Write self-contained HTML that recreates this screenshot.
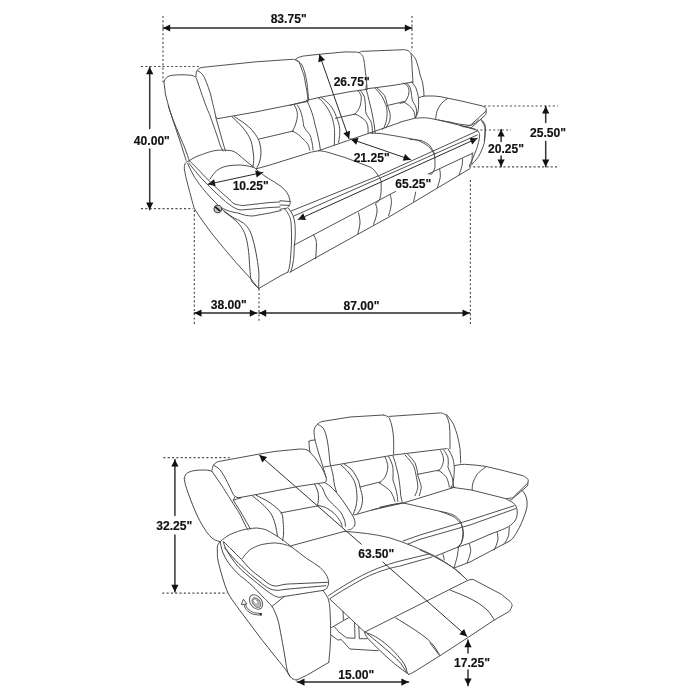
<!DOCTYPE html>
<html><head><meta charset="utf-8"><style>
html,body{margin:0;padding:0;background:#fff;width:700px;height:700px;overflow:hidden}
svg{display:block;will-change:transform}
text{font-family:"Liberation Sans",sans-serif;font-weight:bold;fill:#111;stroke:#111;stroke-width:0.15px}
</style></head><body>
<svg width="700" height="700" viewBox="0 0 700 700" stroke-linecap="round" stroke-linejoin="round">
<rect width="700" height="700" fill="#fff"/>
<line x1="163" y1="16" x2="163" y2="82" stroke="#505050" stroke-width="1.15" stroke-dasharray="2.1,2.2" stroke-linecap="butt"/>
<line x1="412" y1="16" x2="412" y2="51" stroke="#505050" stroke-width="1.15" stroke-dasharray="2.1,2.2" stroke-linecap="butt"/>
<line x1="163" y1="28" x2="412" y2="28" stroke="#2a2a2a" stroke-width="1.5"/>
<polygon points="412.0,28.0 404.8,31.6 404.8,24.4" fill="#111"/>
<polygon points="163.0,28.0 170.2,24.4 170.2,31.6" fill="#111"/>
<line x1="141" y1="66.5" x2="199" y2="66.5" stroke="#505050" stroke-width="1.15" stroke-dasharray="2.1,2.2" stroke-linecap="butt"/>
<line x1="141" y1="208.6" x2="193" y2="208.6" stroke="#505050" stroke-width="1.15" stroke-dasharray="2.1,2.2" stroke-linecap="butt"/>
<line x1="149.7" y1="67" x2="149.7" y2="128.6" stroke="#333" stroke-width="1.5"/>
<line x1="149.7" y1="149" x2="149.7" y2="209.7" stroke="#333" stroke-width="1.5"/>
<polygon points="149.7,67.0 153.3,74.2 146.1,74.2" fill="#111"/>
<polygon points="149.7,209.7 146.1,202.5 153.3,202.5" fill="#111"/>
<line x1="484" y1="106" x2="558" y2="106" stroke="#505050" stroke-width="1.15" stroke-dasharray="2.1,2.2" stroke-linecap="butt"/>
<line x1="476" y1="130" x2="511" y2="130" stroke="#505050" stroke-width="1.15" stroke-dasharray="2.1,2.2" stroke-linecap="butt"/>
<line x1="469" y1="166.8" x2="559" y2="166.8" stroke="#505050" stroke-width="1.15" stroke-dasharray="2.1,2.2" stroke-linecap="butt"/>
<line x1="545.7" y1="106.3" x2="545.7" y2="122.6" stroke="#333" stroke-width="1.5"/>
<line x1="545.7" y1="141.4" x2="545.7" y2="166.8" stroke="#333" stroke-width="1.5"/>
<polygon points="545.7,106.3 549.3,113.5 542.1,113.5" fill="#111"/>
<polygon points="545.7,166.8 542.1,159.6 549.3,159.6" fill="#111"/>
<line x1="501.1" y1="129.4" x2="501.1" y2="141.4" stroke="#333" stroke-width="1.5"/>
<line x1="501.1" y1="156" x2="501.1" y2="166.8" stroke="#333" stroke-width="1.5"/>
<polygon points="501.1,129.4 504.7,136.6 497.5,136.6" fill="#111"/>
<polygon points="501.1,166.8 497.5,159.6 504.7,159.6" fill="#111"/>
<line x1="194.3" y1="210" x2="194.3" y2="325.7" stroke="#505050" stroke-width="1.15" stroke-dasharray="2.1,2.2" stroke-linecap="butt"/>
<line x1="259" y1="288.6" x2="259" y2="323" stroke="#505050" stroke-width="1.15" stroke-dasharray="2.1,2.2" stroke-linecap="butt"/>
<line x1="470.4" y1="180" x2="470.4" y2="324.6" stroke="#505050" stroke-width="1.15" stroke-dasharray="2.1,2.2" stroke-linecap="butt"/>
<line x1="194.3" y1="313.1" x2="257" y2="313.1" stroke="#2a2a2a" stroke-width="1.5"/>
<polygon points="257.0,313.1 249.8,316.7 249.8,309.5" fill="#111"/>
<polygon points="194.3,313.1 201.5,309.5 201.5,316.7" fill="#111"/>
<line x1="259" y1="313.1" x2="469.7" y2="313.1" stroke="#2a2a2a" stroke-width="1.5"/>
<polygon points="469.7,313.1 462.5,316.7 462.5,309.5" fill="#111"/>
<polygon points="259.0,313.1 266.2,309.5 266.2,316.7" fill="#111"/>
<line x1="163.4" y1="457.6" x2="229.7" y2="457.6" stroke="#505050" stroke-width="1.15" stroke-dasharray="2.1,2.2" stroke-linecap="butt"/>
<line x1="162.3" y1="593.1" x2="227.4" y2="593.1" stroke="#505050" stroke-width="1.15" stroke-dasharray="2.1,2.2" stroke-linecap="butt"/>
<line x1="174.9" y1="459.4" x2="174.9" y2="515.4" stroke="#333" stroke-width="1.5"/>
<line x1="174.9" y1="534.9" x2="174.9" y2="592" stroke="#333" stroke-width="1.5"/>
<polygon points="174.9,459.4 178.5,466.6 171.3,466.6" fill="#111"/>
<polygon points="174.9,592.0 171.3,584.8 178.5,584.8" fill="#111"/>
<line x1="468" y1="640" x2="468" y2="652.9" stroke="#333" stroke-width="1.5"/>
<line x1="468" y1="670" x2="468" y2="685.7" stroke="#333" stroke-width="1.5"/>
<polygon points="468.0,640.0 471.6,647.2 464.4,647.2" fill="#111"/>
<polygon points="468.0,685.7 464.4,678.5 471.6,678.5" fill="#111"/>
<line x1="319.3" y1="54.3" x2="349.1" y2="138.8" stroke="#2a2a2a" stroke-width="1.0"/>
<polygon points="349.1,138.8 343.3,133.2 350.1,130.8" fill="#111"/>
<polygon points="319.3,54.3 325.1,59.9 318.3,62.3" fill="#111"/>
<line x1="350.6" y1="139" x2="410.7" y2="159.7" stroke="#2a2a2a" stroke-width="1.0"/>
<polygon points="410.7,159.7 402.7,160.8 405.1,154.0" fill="#111"/>
<polygon points="350.6,139.0 358.6,137.9 356.2,144.7" fill="#111"/>
<line x1="207.8" y1="184.3" x2="263" y2="172.4" stroke="#2a2a2a" stroke-width="1.0"/>
<polygon points="263.0,172.4 256.7,177.4 255.2,170.4" fill="#111"/>
<polygon points="207.8,184.3 214.1,179.3 215.6,186.3" fill="#111"/>
<polygon points="298.0,219.6 303.1,213.3 306.0,219.9" fill="#111"/>
<polygon points="477.4,138.3 472.3,144.6 469.4,138.0" fill="#111"/>
<line x1="259.3" y1="455" x2="361.4" y2="544.3" stroke="#333" stroke-width="1.0"/>
<line x1="382.9" y1="562.1" x2="467.1" y2="636.4" stroke="#333" stroke-width="1.0"/>
<polygon points="467.1,636.4 459.3,634.3 464.1,628.9" fill="#111"/>
<polygon points="259.3,455.0 267.1,457.0 262.3,462.4" fill="#111"/>
<line x1="297.3" y1="682.1" x2="408.6" y2="682.1" stroke="#2a2a2a" stroke-width="1.5"/>
<polygon points="408.6,682.1 401.4,685.7 401.4,678.5" fill="#111"/>
<polygon points="297.3,682.1 304.5,678.5 304.5,685.7" fill="#111"/>
<path d="M163.9,81.9 C165,78 168,75.8 172,75.3 C178,74.6 186,74.6 191.9,75.4 C194,75.8 195.8,77 196.4,78.3 C198,83 202,95 203.9,100 C206,106 207,109 209.3,113.6 C213,124 217,135 220,145 L223,151" stroke="#484848" stroke-width="0.95" fill="none" />
<path d="M163.90,81.90 C164.08,83.25 164.70,87.82 165.00,90.00 C165.30,92.18 164.87,91.50 165.70,95.00 C166.53,98.50 168.40,105.65 170.00,111.00 C171.60,116.35 173.52,121.73 175.30,127.10 C177.08,132.47 178.90,137.65 180.70,143.20 C182.50,148.75 185.20,157.53 186.10,160.40" stroke="#484848" stroke-width="1.0" fill="none" />
<path d="M168.30,106.00 C169.05,108.17 170.92,114.05 172.80,119.00 C174.68,123.95 177.57,130.77 179.60,135.70 C181.63,140.63 183.38,144.45 185.00,148.60 C186.62,152.75 188.58,158.60 189.30,160.60" stroke="#484848" stroke-width="1.0" fill="none" />
<path d="M195.9,76.6 C195.8,73 196.5,70.5 198.5,69 C199.5,68 200.5,67.6 202.1,67.4 L255,61.9 L292.1,59.3 C294,59.3 295,59.5 295.7,60" stroke="#484848" stroke-width="0.95" fill="none" />
<path d="M197.6,70.9 C199.5,71.5 202,73 203.9,76.6 C205,79 206,81 206.7,82.9 C209,89 211,95 211.9,100 C213,105 214.5,110 215.2,114 C215.7,117 216.5,118.6 218,118.6 L255,112.1 L307.9,101.4" stroke="#484848" stroke-width="0.95" fill="none" />
<path d="M215.7,117 L223.6,145 L225.5,151" stroke="#484848" stroke-width="0.95" fill="none" />
<path d="M295.7,60 C298,61 299,62 299.3,62.9 C302,69 303,74 303.6,73.6 C305,80 306,88 306.4,87.9 C307.5,95 307.9,99 307.9,101.4" stroke="#484848" stroke-width="0.95" fill="none" />
<path d="M234.30,116.60 C235.25,117.22 237.62,118.62 240.00,120.30 C242.38,121.98 246.03,124.35 248.60,126.70 C251.17,129.05 253.55,131.68 255.40,134.40 C257.25,137.12 258.77,139.90 259.70,143.00 C260.63,146.10 261.03,149.83 261.00,153.00 C260.97,156.17 260.25,159.40 259.50,162.00 C258.75,164.60 257.00,167.50 256.50,168.60" stroke="#484848" stroke-width="1.0" fill="none" />
<path d="M232.10,116.80 C233.42,118.10 237.68,122.10 240.00,124.60 C242.32,127.10 244.15,129.02 246.00,131.80 C247.85,134.58 249.85,137.43 251.10,141.30 C252.35,145.17 253.10,151.55 253.50,155.00 C253.90,158.45 253.60,159.92 253.50,162.00 C253.40,164.08 253.00,166.58 252.90,167.50" stroke="#484848" stroke-width="1.0" fill="none" />
<path d="M258.9,139.1 L293.1,131 L292.6,131.1" stroke="#484848" stroke-width="0.95" fill="none" />
<path d="M293.9,104.6 C296.5,108 297.6,112 297.4,115.7 C297,121 295,127 292.6,131.1" stroke="#484848" stroke-width="0.95" fill="none" />
<path d="M292.6,131.1 C296,133 298,134 300.3,136.3 C303,139 305.5,141 307.1,143.1 C308.5,145 309.3,147.5 309.7,150" stroke="#484848" stroke-width="0.95" fill="none" />
<path d="M297.3,105 C299.5,108 301,112 302,115.7 C303,120 303.2,123 303.7,126 C305,129.5 307.5,131.5 309.7,134.6 C311.5,138 312.5,144 313.1,150" stroke="#484848" stroke-width="0.95" fill="none" />
<path d="M306.7,100.3 C308,103 309.5,106 310.6,108.9 C312.5,114 314,119 314.9,124.3 C316.5,130 317.5,134 318.3,138 C319.2,142 320,146 320.4,150" stroke="#484848" stroke-width="0.95" fill="none" />
<path d="M295.7,59.3 C298,57.5 301,56 306.4,55.7 L319.3,54.3 L345,51.9 L356.4,52.1 C358.5,52.3 360.5,53 361.4,54.3 C362.7,56 363.3,57 363.6,58.6 C364.3,62 364.8,65 365,68.6 C365.6,74 366.1,77 366.4,80 C366.8,84 367,87 367.1,89.3" stroke="#484848" stroke-width="0.95" fill="none" />
<path d="M297,60.5 C299.5,62 301.2,63.5 302,65 C303.5,68.5 304.8,72 305.7,76.4 C306.8,81 307.5,86 307.9,92 C308.3,95 308.5,97.5 308.6,100" stroke="#484848" stroke-width="0.95" fill="none" />
<path d="M306.3,101.1 L290,105.4" stroke="#484848" stroke-width="0.95" fill="none" />
<path d="M306.7,100.3 L320,97.3 L350,91.7 L367.1,89.3" stroke="#484848" stroke-width="0.95" fill="none" />
<path d="M318.3,97.7 C321.5,100 324.5,104 326.8,107.1 C329.5,111 331.5,115.5 332.8,120 C334,124.5 334.6,128.5 334.6,132.8 C334.6,137 334.5,141 334.3,145" stroke="#484848" stroke-width="0.95" fill="none" />
<path d="M320.8,97.3 C324.5,99.5 327.5,102.5 330.3,105.4 C333,109 335,112.5 336.3,116.6 C338,121 339.3,125 339.7,128.6 C340,133 339.6,137 338.6,142.5" stroke="#484848" stroke-width="0.95" fill="none" />
<path d="M335.4,118.3 L354.9,114.1" stroke="#484848" stroke-width="0.95" fill="none" />
<path d="M359.3,52.5 C360,51.8 360.7,51.5 361.4,51.4 L403.6,49.7 C406,49.8 408,50.3 409.3,51.4 C410.5,52.8 411.2,54.2 411.4,55.7 C411.8,60 412,64 412.1,68.6 C412.4,73 412.7,77 412.9,82.1" stroke="#484848" stroke-width="0.95" fill="none" />
<path d="M366,88.9 L393,85.4 L412.9,82.1" stroke="#484848" stroke-width="0.95" fill="none" />
<path d="M366.4,85 L366,88.9 C367.2,92.5 368.2,96.5 369,100.4 C370.3,105 371.5,110 372.4,115 C373.6,120.5 374.5,126 375,131.3 L375.3,133" stroke="#484848" stroke-width="0.95" fill="none" />
<path d="M357.9,90.6 C360,93 361.4,95.5 361.3,97.9 C361.2,101 360.8,104 360,106.4 C358.7,109.5 357,112 354.9,114.1" stroke="#484848" stroke-width="0.95" fill="none" />
<path d="M360,90.1 C362,92.5 364,95.5 364.7,97.9 C365.5,102 365.4,107 365.6,111.6 C366.3,115 368.8,118 370.7,121 C372,124 372.4,128 372.4,131.3 L372.5,133.5" stroke="#484848" stroke-width="0.95" fill="none" />
<path d="M354.9,114.1 C358.5,115.5 361.5,117.3 363.9,119.3 C365.8,121 367,123 367.7,125.3 C368.2,128 368.2,130.5 368.1,133" stroke="#484848" stroke-width="0.95" fill="none" />
<path d="M375.4,88.4 C377.5,90.5 379.8,93.5 381.8,96.1 C383.3,98.8 384.8,101.8 385.7,104.7 C386.5,106.7 387,108.7 387,110.7 C387.2,114.5 386.9,118.5 386.1,121.8 C385.5,124 384.8,126 384,127.8 L382.5,129.5" stroke="#484848" stroke-width="0.95" fill="none" />
<path d="M377.1,88 C379.7,90 382.2,92.7 384.4,95.3 C385.7,98 386.5,101 387,103.9 C388,107.5 389.3,110.5 390,113.3 C390.5,116 390.2,118.5 389.6,121 C389,123 388,124.8 387,126.1 L385.5,128" stroke="#484848" stroke-width="0.95" fill="none" />
<path d="M387,105.6 L405,101.3" stroke="#484848" stroke-width="0.95" fill="none" />
<path d="M318.6,150.7 L400,122.5" stroke="#484848" stroke-width="0.95" fill="none" />
<path d="M411.4,53.6 C413.5,56 414.8,57.5 415.7,59.3 C417.5,64 419,69 420.1,75 C421.6,79 422.6,82 423.1,86.1 C423.7,90 424,93 424,96" stroke="#484848" stroke-width="0.95" fill="none" />
<path d="M403.4,83.1 C405,84 406.6,85 407.7,86.1 C408.7,88 409.1,90 409,92.1 C408.8,94.5 408.2,96.5 407.3,98.1 C406.5,99.8 405.5,101.2 404.3,102.4" stroke="#484848" stroke-width="0.95" fill="none" />
<path d="M400,103.3 L404.3,102.4 C406.2,103.5 408,104.5 409.4,105.8 C411.2,107.5 412.8,109.2 413.7,111 C414.7,113 415,115.5 415,117.8" stroke="#484848" stroke-width="0.95" fill="none" />
<path d="M406.4,82.7 C408,84.2 409.4,86 410.3,87.9 C411.1,90.5 411.4,93 411.6,95.6 C411.8,97.5 412,99 412.4,100.7 C413.3,102.5 414.6,104 415.4,105.8 C416.2,107.6 416.7,109.7 416.7,111.8 C416.7,114 416.2,116 415.4,117.8" stroke="#484848" stroke-width="0.95" fill="none" />
<path d="M411.6,81.9 C413.3,84 414.8,86 415.9,87.9 C417,91 417.9,94 418.4,97.3 C418.7,101 418.7,105 418.4,109.3 C418.1,112 417.2,114.8 415.9,117" stroke="#484848" stroke-width="0.95" fill="none" />
<path d="M418.9,97.7 C420.5,97 422.5,96.3 424.9,96 L434.3,96 C439,96.3 443,97 447.1,98.1 L460,100.7 L482.9,106.1 C484.6,106.8 485.6,107.8 486.1,108.9 C486.4,109.8 486.4,110.5 486.1,111 L471.4,124.3 C470.6,125 469.9,125.4 469.3,125.4 L460,124.3 L450,122.1" stroke="#484848" stroke-width="0.95" fill="none" />
<path d="M486.1,111 C486.3,112.5 486.2,113.8 485.6,114.8 L471.4,127.6 C471,127.9 470.5,128 470,127.9 L460,125.6" stroke="#484848" stroke-width="0.95" fill="none" />
<path d="M447.6,98.6 C444.5,100.5 442,102.5 440.3,105 C438.4,107.8 437,110.5 436.4,113.6 C436,115.8 435.7,117.7 435.6,119.6" stroke="#484848" stroke-width="0.95" fill="none" />
<path d="M400,122.1 L414.6,118.3 C418,117.9 421.5,117.8 425.7,117.8 C429,118 432.5,118.8 436,119.6 L450,122.1" stroke="#484848" stroke-width="0.95" fill="none" />
<path d="M470,127.9 C472,128.6 474,129.4 475.7,130" stroke="#484848" stroke-width="0.95" fill="none" />
<path d="M481.4,119.6 C483,121 484.4,123 485,125 C485.4,127 485.5,128.5 485.4,130 C485.2,133 484.8,136.5 484.3,140" stroke="#484848" stroke-width="0.95" fill="none" />
<path d="M189.4,160.7 C193,158 197,156.2 201.4,154.7 C206,153 211,151.2 216,150.4 C221,149.9 226,150 231.4,150.7 C235,151.5 238,154 241.4,157.1 C245,160.5 249,163.5 252.9,166.4 C254.8,168 256.6,169.8 258.6,171.4 C261.8,174 265.2,176.5 268.6,178.6 C272.4,180.9 276.4,183 280,185.7 C283,188 285.5,190.2 287.1,192.9 C288.8,195.7 289.8,198.6 290,201.4 C290.2,202.2 290.3,203 290.2,203.5 C289.5,206 288,208 286,208.4 L280,209.3" stroke="#484848" stroke-width="0.95" fill="none" />
<path d="M210,179.1 C212,176 214.5,172.5 216.8,170.6 C220,168 224,166.5 228,165.9 C232,165.3 236,165 240,165 C244,165.2 248,166 252.9,167.1" stroke="#484848" stroke-width="0.95" fill="none" />
<path d="M280,200.7 L290.3,201.6" stroke="#484848" stroke-width="0.95" fill="none" />
<path d="M280,205 L289,205.4" stroke="#484848" stroke-width="0.95" fill="none" />
<path d="M189.4,160.7 C195,166 200,171.5 205.7,177.4 C211,183 217,188.5 222.8,193.7 C226,196.5 229,199 230,200 C232,202.5 234,204 235,204 C238,205 241,205.4 243,205.5 L270,202.5 L280,202" stroke="#484848" stroke-width="0.95" fill="none" />
<path d="M188.6,162.9 C192.5,168 197,173 201.4,178.3 C207,184 212.5,190 218.6,195.4 C223,199.5 228,204 233,207 C236,208.8 238.5,209.8 241,210 L270,207.5 L280,207" stroke="#484848" stroke-width="0.95" fill="none" />
<path d="M187.7,163.7 C189.5,168 192,172.5 194.6,177.4 C198,182.5 201.5,187 205.7,192 C209,196 213,200 217.7,204.8 C222,209 230,212 238,213 C243,215 248,216 253,216 L270,213 L281,210.5" stroke="#484848" stroke-width="0.95" fill="none" />
<path d="M189.4,160.7 C187,161.5 185.5,162.5 185.1,163.7 C184.4,165.5 184.2,167 184.3,168.9 C185,174 186.3,179 187.7,184.3 C189,189.5 190.7,195 192,200.6 C192.8,203.5 193.6,206 194.3,208.6" stroke="#484848" stroke-width="0.95" fill="none" />
<path d="M194.3,208.6 C200,217.5 206.5,226.5 213.6,235.7 C220.5,244.5 227.5,252.5 235,261.4 C240,267 245.5,273 250.7,278.6 C253.5,282 256,285.5 258.6,288.6" stroke="#484848" stroke-width="0.95" fill="none" />
<path d="M258.6,288.6 L280,276 L287.9,272.1" stroke="#484848" stroke-width="0.95" fill="none" />
<path d="M221.60,209.00 C223.32,210.28 228.27,214.35 231.90,216.70 C235.53,219.05 240.42,220.75 243.40,223.10 C246.38,225.45 248.08,227.58 249.80,230.80 C251.52,234.02 252.52,237.90 253.70,242.40 C254.88,246.90 256.05,252.87 256.90,257.80 C257.75,262.73 258.48,268.30 258.80,272.00 C259.12,275.70 258.83,277.23 258.80,280.00 C258.77,282.77 258.63,287.17 258.60,288.60" stroke="#484848" stroke-width="1.0" fill="none" />
<path d="M224.10,211.60 C226.03,213.10 232.70,217.82 235.70,220.60 C238.70,223.38 240.38,225.52 242.10,228.30 C243.82,231.08 244.92,233.45 246.00,237.30 C247.08,241.15 247.97,246.27 248.60,251.40 C249.23,256.53 249.38,263.38 249.80,268.10 C250.22,272.82 250.40,277.05 251.10,279.70 C251.80,282.35 252.92,282.72 254.00,284.00 C255.08,285.28 257.00,286.83 257.60,287.40" stroke="#484848" stroke-width="1.0" fill="none" />
<circle cx="217.8" cy="209" r="3.8" stroke="#444" stroke-width="1.1" fill="#c8c8c8"/>
<path d="M215.6,207.2 L219.6,210.6" stroke="#111" stroke-width="1.6"/>
<path d="M284.3,208.4 C286,210.5 287.5,212.5 288.6,214.4 C290,217 290.8,220 291.1,223 C291.6,230 291.7,238 291.4,245 C291,252 290.6,258 290,263.6 C289.5,267 288.8,270 287.9,272.1" stroke="#484848" stroke-width="0.95" fill="none" />
<path d="M288.6,208.4 C290.3,210.5 291.8,213 292.9,215.3 C294,218 294.7,221.5 295,224.7 C295.5,232 295.4,240 294.3,245 C294.2,250 294,255 293.6,259.3 C293,264 292,268.5 290.7,272.1" stroke="#484848" stroke-width="0.95" fill="none" />
<path d="M257,168.6 L270,165 L311.4,152.1 L318.6,150.7" stroke="#484848" stroke-width="0.95" fill="none" />
<path d="M318.6,150.7 C322,151 325,151.5 327.1,152.1 L345,157.5 L370,167 C373,168.3 376,172 378.1,175.6 C380,178 381,180 381.1,181.6 C381.3,185 381.3,188 381.1,191.8 C380.8,194 380.5,196.5 379.9,198.7 C378.8,201 377.3,202.8 375.6,203.8" stroke="#484848" stroke-width="0.95" fill="none" />
<path d="M370,132.9 L381.4,133.6 C393,135.5 405,137.5 417.1,140 C421,141.5 425,143.8 428.6,146.4 C431,149 433,151.5 434.3,154.3 C435,158 435,162.5 435,167.1 C434.5,170 433,172.5 431.4,174.3 L428.9,173.7" stroke="#484848" stroke-width="0.95" fill="none" />
<path d="M410,139.4 C414,139.6 418,140 421.4,140.6 C424.5,141.8 427.3,143.3 429.4,145.1 C431.6,148 433.5,151 434.6,154.3" stroke="#484848" stroke-width="0.95" fill="none" />
<path d="M438.6,120 C446,121.8 454,123.8 461.4,125.7 C466,127 471,128.2 475.1,129.1" stroke="#484848" stroke-width="0.95" fill="none" />
<path d="M463.7,126.9 C466.5,126.4 469.2,125.8 471.7,125.1 C474.5,123.7 476.8,122 478.6,120" stroke="#484848" stroke-width="0.95" fill="none" />
<path d="M291.1,211 L340,191.3 L379,175.6 L415,159.3 L477.4,130.9" stroke="#484848" stroke-width="0.95" fill="none" />
<path d="M293.7,216.1 L340,195.6 L379.9,178.1 L415,162.7 L477.4,134.9" stroke="#484848" stroke-width="0.95" fill="none" />
<path d="M477.4,130.3 C478.5,131.5 479.3,133 479.7,134.9 C479.4,140 478,145 476.3,149.7 C474.3,155 472,160.5 469.4,165.7" stroke="#484848" stroke-width="0.95" fill="none" />
<path d="M480.9,120 C482.5,122 484,124.5 484.9,126.9 C485.3,132 485,137.5 484.3,142.9 C483,147.5 481,152 478.6,156.6 C476,160 473.5,163 470.6,165.7" stroke="#484848" stroke-width="0.95" fill="none" />
<line x1="298" y1="219.6" x2="477.4" y2="138.3" stroke="#2a2a2a" stroke-width="1.0"/>
<path d="M294.3,245 L395.5,191.5" stroke="#484848" stroke-width="0.95" fill="none" />
<path d="M428.5,173.9 L472.9,153.1" stroke="#484848" stroke-width="0.95" fill="none" />
<path d="M290,272.1 L390,216.4 L470,168.6" stroke="#484848" stroke-width="0.95" fill="none" />
<path d="M313.60,235.00 C314.00,235.83 315.53,238.17 316.00,240.00 C316.47,241.83 316.45,242.90 316.40,246.00 C316.35,249.10 315.82,256.50 315.70,258.60" stroke="#484848" stroke-width="1.0" fill="none" />
<path d="M358.60,212.90 C358.83,214.57 360.12,219.45 360.00,222.90 C359.88,226.35 358.25,231.82 357.90,233.60" stroke="#484848" stroke-width="1.0" fill="none" />
<path d="M375.70,204.30 C375.93,205.25 377.05,207.88 377.10,210.00 C377.15,212.12 376.58,214.62 376.00,217.00 C375.42,219.38 374.00,223.08 373.60,224.30" stroke="#484848" stroke-width="1.0" fill="none" />
<path d="M390,194.3 C391,197 391.5,200 391.4,202.9 C391,207 390,211.5 388.6,215.7" stroke="#484848" stroke-width="0.95" fill="none" />
<path d="M415.7,192.1 C415.2,195 414.4,198.3 413.6,201.4" stroke="#484848" stroke-width="0.95" fill="none" />
<path d="M439.7,169.1 C440.3,171.8 440.5,174.5 440.3,177.1 C439.7,180.5 438.6,184 437.4,187.4" stroke="#484848" stroke-width="0.95" fill="none" />
<path d="M462.6,158.9 C462.6,161.2 462.4,163.5 462,165.7 C461.2,169 460.2,172 459.1,174.9" stroke="#484848" stroke-width="0.95" fill="none" />
<path d="M472.3,153.1 C472.3,156.5 472.1,160 471.7,163.4" stroke="#484848" stroke-width="0.95" fill="none" />
<path d="M184.30,478.60 C184.65,477.77 184.85,474.92 186.40,473.60 C187.95,472.28 190.73,471.30 193.60,470.70 C196.47,470.10 201.03,470.05 203.60,470.00 C206.17,469.95 207.62,470.18 209.00,470.40 C210.38,470.62 211.42,471.15 211.90,471.30" stroke="#484848" stroke-width="1.0" fill="none" />
<path d="M211.90,471.30 C213.18,473.13 217.03,478.47 219.60,482.30 C222.17,486.13 225.30,491.17 227.30,494.30 C229.30,497.43 229.60,497.97 231.60,501.10 C233.60,504.23 237.45,509.95 239.30,513.10 C241.15,516.25 241.50,517.60 242.70,520.00 C243.90,522.40 245.62,525.83 246.50,527.50 C247.38,529.17 247.75,529.58 248.00,530.00" stroke="#484848" stroke-width="1.0" fill="none" />
<path d="M184.30,478.60 C184.53,479.78 184.63,482.13 185.70,485.70 C186.77,489.27 188.67,494.77 190.70,500.00 C192.73,505.23 195.52,512.18 197.90,517.10 C200.28,522.02 203.07,526.43 205.00,529.50 C206.93,532.57 207.95,533.82 209.50,535.50 C211.05,537.18 212.55,538.58 214.30,539.60 C216.05,540.62 219.05,541.27 220.00,541.60" stroke="#484848" stroke-width="1.0" fill="none" />
<path d="M212.1,470 C212.3,468 212.8,466.3 213.6,465 C215,463 217,461.8 219.3,461.4 L257.9,454.3 L275,451.4 L300,449 C302,449.1 304.5,449.2 306,449.5 C307.5,450.2 309,451 310,452 C312,454.3 314,456.6 316,459 C318,462 320,465 322,468 C323.5,471 325,474 326,477 C326.5,478.5 326.6,480 326.2,481 C325.8,481.8 325.4,482.3 324.9,482.5 L300,486.1 L265,492.9 L237.9,497.9" stroke="#484848" stroke-width="0.95" fill="none" />
<path d="M213.60,465.10 C214.60,465.82 217.75,467.40 219.60,469.40 C221.45,471.40 222.98,474.10 224.70,477.10 C226.42,480.10 228.47,484.53 229.90,487.40 C231.33,490.27 232.32,492.73 233.30,494.30 C234.28,495.87 234.93,496.22 235.80,496.80 C236.67,497.38 237.63,497.65 238.50,497.80 C239.37,497.95 240.58,497.72 241.00,497.70" stroke="#484848" stroke-width="1.0" fill="none" />
<path d="M233.30,500.30 C234.30,501.87 237.30,506.42 239.30,509.70 C241.30,512.98 243.53,516.95 245.30,520.00 C247.07,523.05 249.03,526.47 249.90,528.00 C250.77,529.53 250.40,529.00 250.50,529.20" stroke="#484848" stroke-width="1.0" fill="none" />
<path d="M235,496.6 L233.3,500.3 L241,497.7" stroke="#484848" stroke-width="0.95" fill="none" />
<path d="M252.70,496.10 C254.27,497.40 259.10,501.03 262.10,503.90 C265.10,506.77 268.55,510.02 270.70,513.30 C272.85,516.58 273.85,519.75 275.00,523.60 C276.15,527.45 277.17,534.27 277.60,536.40" stroke="#484848" stroke-width="1.0" fill="none" />
<path d="M256.10,495.30 C258.25,496.43 264.85,499.25 269.00,502.10 C273.15,504.95 278.65,509.12 281.00,512.40 C283.35,515.68 282.67,518.37 283.10,521.80 C283.53,525.23 283.67,529.85 283.60,533.00 C283.53,536.15 282.85,539.42 282.70,540.70" stroke="#484848" stroke-width="1.0" fill="none" />
<path d="M280.7,512.9 L318.6,505.7" stroke="#484848" stroke-width="0.95" fill="none" />
<path d="M314.60,484.00 C315.17,485.35 317.37,489.60 318.00,492.10 C318.63,494.60 318.47,496.82 318.40,499.00 C318.33,501.18 317.73,504.17 317.60,505.20" stroke="#484848" stroke-width="1.0" fill="none" />
<path d="M318.00,483.60 C318.72,484.32 320.87,485.62 322.30,487.90 C323.73,490.18 324.88,494.60 326.60,497.30 C328.32,500.00 330.32,501.68 332.60,504.10 C334.88,506.52 338.30,509.08 340.30,511.80 C342.30,514.52 343.75,517.97 344.60,520.40 C345.45,522.83 345.27,525.40 345.40,526.40" stroke="#484848" stroke-width="1.0" fill="none" />
<path d="M317.60,505.40 C318.95,505.77 322.92,506.23 325.70,507.60 C328.48,508.97 331.87,511.32 334.30,513.60 C336.73,515.88 339.02,519.17 340.30,521.30 C341.58,523.43 341.72,525.55 342.00,526.40" stroke="#484848" stroke-width="1.0" fill="none" />
<path d="M324.90,482.70 C325.75,483.27 328.15,484.53 330.00,486.10 C331.85,487.67 333.87,489.67 336.00,492.10 C338.13,494.53 340.52,497.55 342.80,500.70 C345.08,503.85 347.80,507.95 349.70,511.00 C351.60,514.05 353.35,516.67 354.20,519.00 C355.05,521.33 355.27,523.33 354.80,525.00 C354.33,526.67 352.53,528.20 351.40,529.00 C350.27,529.80 348.57,529.67 348.00,529.80" stroke="#484848" stroke-width="1.0" fill="none" />
<path d="M331.00,467.00 C331.33,468.33 332.42,472.00 333.00,475.00 C333.58,478.00 333.92,482.17 334.50,485.00 C335.08,487.83 336.17,490.83 336.50,492.00" stroke="#484848" stroke-width="1.0" fill="none" />
<path d="M309,441.5 C309.3,441 309.6,440.6 310,440.5 L315,440" stroke="#484848" stroke-width="0.95" fill="none" />
<path d="M309,441.5 C309.1,444.5 309.3,447.5 309.5,450 L310,452" stroke="#484848" stroke-width="0.95" fill="none" />
<path d="M383.6,415 L350,417 L322,421.5 C318.5,422.5 315,425.5 314,430 C314,434 314.5,437 315,440 C316,444 317,447.5 318,451 C319.6,456 321.4,461.5 323,467 C324.2,471 325.2,474.5 326,477" stroke="#484848" stroke-width="0.95" fill="none" />
<path d="M318,424.5 C320,425.5 321.8,426.5 323,428 C324.5,430.5 325.5,432.5 326,435 C327,438.5 327.6,441.5 328,445 C328.8,451 329.5,457 330,463 L331,466" stroke="#484848" stroke-width="0.95" fill="none" />
<path d="M383.6,415 C386,415.5 388,416.5 389.3,417.9 C390.5,420.8 391.5,424 392.1,427.1 C392.9,431 393.4,435 393.6,438.6 C393.8,444 393.7,449 393.6,454.3" stroke="#484848" stroke-width="0.95" fill="none" />
<path d="M324,467 L393.6,455 L446.4,448.6" stroke="#484848" stroke-width="0.95" fill="none" />
<path d="M389.3,416.4 L440.7,412.9 C443,413.2 445,414.2 446.4,415.7 C447.8,418.3 448.8,421.2 449.3,424.3 C449.8,429 450,433.8 450,438.6 C450,442 450,445.2 450,448.6" stroke="#484848" stroke-width="0.95" fill="none" />
<path d="M446.4,414.3 C449,417.3 451.5,420.6 453.6,424.3 C454.8,427.5 456,431 457.1,434.3 C458.3,438.9 459.3,443.7 460,448.6 C460.4,453.4 460.6,458.2 460.7,462.9" stroke="#484848" stroke-width="0.95" fill="none" />
<path d="M341.00,465.00 C342.33,466.33 346.67,470.00 349.00,473.00 C351.33,476.00 353.67,479.17 355.00,483.00 C356.33,486.83 356.83,492.17 357.00,496.00 C357.17,499.83 356.67,502.83 356.00,506.00 C355.33,509.17 353.50,513.50 353.00,515.00" stroke="#484848" stroke-width="1.0" fill="none" />
<path d="M344.00,464.00 C345.33,465.00 349.67,467.33 352.00,470.00 C354.33,472.67 356.67,477.17 358.00,480.00 C359.33,482.83 359.25,484.00 360.00,487.00 C360.75,490.00 362.33,494.50 362.50,498.00 C362.67,501.50 361.92,505.33 361.00,508.00 C360.08,510.67 357.67,513.00 357.00,514.00" stroke="#484848" stroke-width="1.0" fill="none" />
<path d="M360,487 L380,482" stroke="#484848" stroke-width="0.95" fill="none" />
<path d="M385,457.1 C386.7,460.2 387.7,463.6 387.9,467.1 C387.6,470.6 386.6,474 385,477.1 C383.4,479.4 381.5,481.4 379.3,482.9" stroke="#484848" stroke-width="0.95" fill="none" />
<path d="M388.6,456.4 C390.6,459.8 392,463.4 392.9,467.1 C393.2,471.4 393.2,475.7 392.9,480 C394.3,483.8 395.5,487.5 396.4,491.4 C397.1,494.7 397.6,498 397.9,501.4" stroke="#484848" stroke-width="0.95" fill="none" />
<path d="M379.3,482.9 C383.6,485.4 387.4,488.3 390.7,491.4 C392.6,494.6 394,498 395,501.4" stroke="#484848" stroke-width="0.95" fill="none" />
<path d="M392.9,455.7 C394.3,459.4 395.5,463.2 396.4,467.1 C397.8,471.8 398.7,476.6 399.3,481.4 C400,486.2 400.5,491 400.7,495.7 L402.1,501.4" stroke="#484848" stroke-width="0.95" fill="none" />
<path d="M405,455 C408.2,458.3 411.1,461.9 413.6,465.7 C415,469.4 415.9,473.2 416.4,477.1 C417.2,480.4 417.7,483.7 417.9,487.1 C417.3,490 416.4,492.9 415,495.7" stroke="#484848" stroke-width="0.95" fill="none" />
<path d="M407.9,454.3 C410.5,457 412.9,459.9 415,462.9 C416.6,467.1 417.6,471.4 417.9,475.7 C419.3,479.5 420.4,483.3 421.4,487.1 C420.9,490 420.2,492.9 419.3,495.7" stroke="#484848" stroke-width="0.95" fill="none" />
<path d="M417.9,474.3 L439.3,470" stroke="#484848" stroke-width="0.95" fill="none" />
<path d="M440.7,450.7 C442.4,453.7 443.4,456.9 443.6,460 C443.3,463 442.3,465.9 440.7,468.6 C439.9,469.6 439,470.6 437.9,471.4" stroke="#484848" stroke-width="0.95" fill="none" />
<path d="M443.6,450 C445.4,452.2 446.8,454.6 447.9,457.1 C448.4,460.4 448.5,463.7 447.9,467.1 C449.3,470.4 450.7,473.7 452.1,477.1 C452.9,480.3 453.4,483.7 453.6,487.1" stroke="#484848" stroke-width="0.95" fill="none" />
<path d="M439.3,470.7 C441.9,472.6 444.3,474.7 446.4,477.1 C447.9,480.3 448.9,483.7 449.3,487.1" stroke="#484848" stroke-width="0.95" fill="none" />
<path d="M447.9,448.6 C449.9,451.8 451.7,455.1 452.9,458.6 C453.9,462.3 454.4,466.1 454.3,470 C454.2,474.8 453.7,479.6 452.9,484.3 L450.7,488.6" stroke="#484848" stroke-width="0.95" fill="none" />
<path d="M372.1,510 L403.6,502.9 L455,487.1" stroke="#484848" stroke-width="0.95" fill="none" />
<path d="M354.3,515 L390,505 L403.6,502.9" stroke="#484848" stroke-width="0.95" fill="none" />
<path d="M454.3,465.7 C457.5,464.9 460.9,464.4 464.3,464.3 C471.5,464.6 478.6,465.3 485.7,466.4 C498.2,469.2 510.6,472.3 522.9,475.7 C525,476.6 526.8,477.8 527.9,479.3 C528.4,480.5 528.4,481.7 527.9,482.9 L512.9,497.6 C512,498.2 511.7,498 511.4,497.9 C509.5,498.3 507.5,498.6 505.7,498.6 L471.4,490 L450.7,487.1" stroke="#484848" stroke-width="0.95" fill="none" />
<path d="M527.9,482.9 C528.1,484 527.9,485.2 527.3,486 L511.5,499.6 C511,499.9 510.5,500 510,500" stroke="#484848" stroke-width="0.95" fill="none" />
<path d="M485.7,467.1 C482.5,469.2 479.6,471.6 477.1,474.3 C475.3,477 473.9,479.9 472.9,482.9 C472.4,485.3 472.1,487.6 472.1,490" stroke="#484848" stroke-width="0.95" fill="none" />
<path d="M521.50,490.20 C521.78,490.43 522.38,490.32 523.20,491.60 C524.02,492.88 525.80,495.25 526.40,497.90 C527.00,500.55 527.50,503.58 526.80,507.50 C526.10,511.42 523.87,517.28 522.20,521.40 C520.53,525.52 518.60,529.15 516.80,532.20 C515.00,535.25 513.55,537.73 511.40,539.70 C509.25,541.67 505.15,543.28 503.90,544.00" stroke="#484848" stroke-width="1.0" fill="none" />
<path d="M402.9,502.9 L447.1,512.9 C450.5,513.8 453.5,514.9 455.7,516.4 C458,518 459.7,520 460.7,522.1 C462.2,525.5 462.9,529 462.9,532.9 C462.8,536.5 462.3,540 461.4,542.9 C460.5,544.6 459.3,546 457.9,547.1" stroke="#484848" stroke-width="0.95" fill="none" />
<path d="M380,507.1 L401.4,502.9" stroke="#484848" stroke-width="0.95" fill="none" />
<path d="M506.10,498.90 C507.35,499.62 511.82,501.58 513.60,503.20 C515.38,504.82 516.25,506.45 516.80,508.60 C517.35,510.75 517.43,513.78 516.90,516.10 C516.37,518.42 515.40,520.53 513.60,522.50 C511.80,524.47 510.03,525.93 506.10,527.90 C502.17,529.87 492.68,533.23 490.00,534.30" stroke="#484848" stroke-width="1.0" fill="none" />
<path d="M440,511.4 C445,513 450,515 454.3,517.1 C457,519.3 459.5,521.7 461.4,524.3 C462.7,527.6 463.4,530.9 463.6,534.3 C463.4,537.2 462.6,540.1 461.4,542.9 C460.4,544.5 459.2,545.9 457.9,547.1" stroke="#484848" stroke-width="0.95" fill="none" />
<path d="M403,541 L420,535 L470,520 L514.3,505.7" stroke="#484848" stroke-width="0.95" fill="none" />
<path d="M408,544 L420,539.3 L470,525 L515.7,508.6" stroke="#484848" stroke-width="0.95" fill="none" />
<path d="M328.6,595.7 C335,591 342,587 348.6,582.9 C358,577.5 367,572.5 377.1,568.6 C385,565.5 392,563 400,561 L429,554" stroke="#484848" stroke-width="0.95" fill="none" />
<path d="M330,598.6 C338,593 347,588 355.7,582.9 C365,577.5 374,573 384.3,570 C392,567.5 400,566 400,566 L432,557" stroke="#484848" stroke-width="0.95" fill="none" />
<path d="M436,556 L458,547 L470,543 L490,534.3" stroke="#484848" stroke-width="0.95" fill="none" />
<path d="M454,568 L470,562 L503.9,544" stroke="#484848" stroke-width="0.95" fill="none" />
<path d="M442.9,554.3 C443.6,556.2 444.1,558.1 444.3,560" stroke="#484848" stroke-width="0.95" fill="none" />
<path d="M458.6,546.4 C458.2,550 457.7,553.6 457.1,557.1 C456.2,560.5 455.2,563.8 454.3,567.1" stroke="#484848" stroke-width="0.95" fill="none" />
<path d="M469.3,544.3 C470.3,546.6 470.8,549 470.7,551.4 C469.9,555.3 468.7,559.1 467.1,562.9" stroke="#484848" stroke-width="0.95" fill="none" />
<path d="M497.1,532.1 C497.8,534.7 498.1,537.3 497.9,540 C497.1,543.4 495.8,546.8 494.3,550" stroke="#484848" stroke-width="0.95" fill="none" />
<path d="M509.3,527.1 C509.1,530 508.9,532.8 508.6,535.7 C507.6,538.2 506.4,540.6 505,542.9" stroke="#484848" stroke-width="0.95" fill="none" />
<path d="M344.3,531.4 C360,532.5 375,534 390,537.9 C405,542.5 420,549 434.3,555.7 C442,560 448,564 454.3,568.6 C458.5,572 462.5,575.5 465.7,578.6" stroke="#484848" stroke-width="0.95" fill="none" />
<path d="M291.4,545.7 L344.3,531.4" stroke="#484848" stroke-width="0.95" fill="none" />
<path d="M420,550 C425,552 430,554.5 435,557 C441,560.5 448,564 454,568 C459,572 463,576 467,580" stroke="#484848" stroke-width="0.95" fill="none" />
<path d="M220.1,541.7 C223,539 226,536.8 229.3,534.9 C234.8,532.3 240.5,530.3 246.4,529.1 C249.8,528.5 253.2,528.1 256.7,528 C259.8,528.2 262.9,528.8 265.9,529.7 C269,531.2 272,533 275,534.9 C280.5,538.2 286,542.1 291.6,546.9 C296.5,550.7 301.4,554.5 306.4,558.3 C311,561.2 315.6,564.2 320.1,567.4 C322.4,569.5 324.4,571.8 325.9,574.3 C327.5,576.8 328.4,579.5 328.7,582.3 C328.6,584.4 328,586.3 327,588 C326,589.1 324.9,589.9 323.6,590.3" stroke="#484848" stroke-width="0.95" fill="none" />
<path d="M241.9,558.9 C244.2,555.7 246.9,552.6 249.9,549.7 C253.4,547.6 257.2,545.8 261.3,544.6 C265.8,543.6 270.4,543.1 275,542.9 C280.5,543.3 286,544.4 291.6,546.9" stroke="#484848" stroke-width="0.95" fill="none" />
<path d="M223.90,541.90 C225.25,543.25 229.05,547.05 232.00,550.00 C234.95,552.95 238.48,556.32 241.60,559.60 C244.72,562.88 247.63,566.80 250.70,569.70 C253.77,572.60 256.85,574.57 260.00,577.00 C263.15,579.43 266.87,582.80 269.60,584.30 C272.33,585.80 273.83,586.00 276.40,586.00 C278.97,586.00 281.07,584.72 285.00,584.30 C288.93,583.88 292.82,583.83 300.00,583.50 C307.18,583.17 323.42,582.50 328.10,582.30" stroke="#484848" stroke-width="1.0" fill="none" />
<path d="M224.40,547.60 C226.32,549.78 232.23,556.87 235.90,560.70 C239.57,564.53 243.22,567.72 246.40,570.60 C249.58,573.48 251.43,575.15 255.00,578.00 C258.57,580.85 264.23,585.65 267.80,587.70 C271.37,589.75 273.53,590.02 276.40,590.30 C279.27,590.58 281.07,589.78 285.00,589.40 C288.93,589.02 293.18,588.62 300.00,588.00 C306.82,587.38 321.58,586.08 325.90,585.70" stroke="#484848" stroke-width="1.0" fill="none" />
<path d="M223.30,541.90 C223.87,543.32 224.27,546.33 226.70,550.40 C229.13,554.47 233.47,561.37 237.90,566.30 C242.33,571.23 248.02,575.58 253.30,580.00 C258.58,584.42 265.47,589.95 269.60,592.80 C273.73,595.65 275.53,596.52 278.10,597.10 C280.67,597.68 281.35,596.82 285.00,596.30 C288.65,595.78 293.57,595.00 300.00,594.00 C306.43,593.00 319.67,590.92 323.60,590.30" stroke="#484848" stroke-width="1.0" fill="none" />
<path d="M220.40,542.40 C220.78,544.02 221.27,548.57 222.70,552.10 C224.13,555.63 226.23,559.78 229.00,563.60 C231.77,567.42 236.63,572.35 239.30,575.00 C241.97,577.65 242.38,577.25 245.00,579.50 C247.62,581.75 252.00,585.58 255.00,588.50 C258.00,591.42 260.83,594.75 263.00,597.00 C265.17,599.25 266.28,600.07 268.00,602.00 C269.72,603.93 271.65,605.60 273.30,608.60 C274.95,611.60 276.68,615.98 277.90,620.00 C279.12,624.02 279.53,627.18 280.60,632.70 C281.67,638.22 283.22,646.92 284.30,653.10 C285.38,659.28 286.17,665.92 287.10,669.80 C288.03,673.68 289.43,675.30 289.90,676.40" stroke="#484848" stroke-width="1.0" fill="none" />
<path d="M220.10,541.70 C219.67,542.33 217.95,543.78 217.50,545.50 C217.05,547.22 217.33,549.58 217.40,552.00 C217.47,554.42 217.07,555.82 217.90,560.00 C218.73,564.18 220.70,571.58 222.40,577.10 C224.10,582.62 225.77,588.33 228.10,593.10 C230.43,597.87 233.75,601.88 236.40,605.70 C239.05,609.52 241.23,612.28 244.00,616.00 C246.77,619.72 249.92,623.92 253.00,628.00 C256.08,632.08 259.00,636.00 262.50,640.50 C266.00,645.00 270.42,650.50 274.00,655.00 C277.58,659.50 281.58,664.33 284.00,667.50 C286.42,670.67 287.17,672.17 288.50,674.00 C289.83,675.83 290.68,677.48 292.00,678.50 C293.32,679.52 295.67,679.83 296.40,680.10" stroke="#484848" stroke-width="1.0" fill="none" />
<path d="M296.4,680.1 C299.8,678.6 303.2,677 306.6,675.4 C314,671.1 321.4,666.7 328.8,662.4" stroke="#484848" stroke-width="0.95" fill="none" />
<path d="M272.1,606.3 L283.6,597.1" stroke="#484848" stroke-width="0.95" fill="none" />
<path d="M323.6,591.4 C325.3,593.6 326.9,595.9 328.1,598.3 C329.1,601.7 329.7,605.1 329.9,608.6 C330.4,617.9 330.8,627.2 330.7,636.4 C330.4,645.1 329.7,653.7 328.8,662.4" stroke="#484848" stroke-width="0.95" fill="none" />
<ellipse cx="256" cy="602" rx="5.6" ry="8" transform="rotate(-38 256 602)" stroke="#555" stroke-width="1" fill="#fff"/>
<ellipse cx="256.4" cy="602.6" rx="3.6" ry="5.6" transform="rotate(-38 256.4 602.6)" stroke="#666" stroke-width="0.8" fill="#bbb"/>
<ellipse cx="255.6" cy="601.6" rx="1.8" ry="3" transform="rotate(-38 255.6 601.6)" fill="#fff" stroke="#777" stroke-width="0.6"/>
<path d="M244.1,604.9 C245,608 246,610 247.6,610.8 C249.5,612.8 251.5,613.8 253.6,614.3 C256.2,614.9 258.8,615.1 261.3,615.1" stroke="#484848" stroke-width="0.9" fill="none" />
<path d="M245.4,604.2 C246.5,607 247.5,608.8 249,609.8 C251,611.6 253,612.4 254.5,612.8 C256.8,613.2 259,613.4 261.2,613.5" stroke="#484848" stroke-width="0.9" fill="none" />
<polygon points="243.3,599.6 241.3,604.6 246.5,604" fill="#fff" stroke="#444" stroke-width="0.9"/>
<rect x="259.8" y="613.2" width="2" height="2" fill="#222"/>
<path d="M330.1,599.3 L364.7,632.1" stroke="#484848" stroke-width="0.95" fill="none" />
<path d="M343,611.3 L343.4,619.8" stroke="#484848" stroke-width="0.95" fill="none" />
<path d="M331.4,627.6 L348.6,617.7" stroke="#484848" stroke-width="0.95" fill="none" />
<path d="M334.4,626.7 C336,628.5 337.3,630.2 338.7,631.8 C341.2,633.8 343.8,635.9 346.4,637.8 L355,638.3 L354.6,623.3" stroke="#484848" stroke-width="0.95" fill="none" />
<path d="M358.8,626.7 L359.3,638.7 L367,638.7" stroke="#484848" stroke-width="0.95" fill="none" />
<path d="M331.4,635.3 L337.9,640 L341.3,639.6 L349.9,649 L378.1,650.7" stroke="#484848" stroke-width="0.95" fill="none" />
<path d="M364.7,632.1 L467.1,580.7 C469,579.8 471,579.3 472.9,579.3 C482.4,584.3 491.9,589.3 501.4,594.3 C504.3,596.7 507.2,599 510,601.4 C511.3,602.8 512.1,604.2 512.1,605.7 C511.5,607.8 510.6,609.7 509.3,611.4 C504.3,614.3 499.3,617.1 494.3,620 L468.6,637.1 L440,655.7 L415,671.3 C412,673 410,674.3 408.7,674.5" stroke="#484848" stroke-width="0.95" fill="none" />
<path d="M395.70,617.90 C399.27,620.15 411.15,627.23 417.10,631.40 C423.05,635.57 427.58,638.85 431.40,642.90 C435.22,646.95 438.57,653.57 440.00,655.70" stroke="#484848" stroke-width="1.0" fill="none" />
<path d="M450.00,590.00 C453.82,591.67 466.72,596.67 472.90,600.00 C479.08,603.33 483.53,606.67 487.10,610.00 C490.67,613.33 493.10,618.33 494.30,620.00" stroke="#484848" stroke-width="1.0" fill="none" />
<path d="M430,642.9 C432.9,646.7 435.7,650.5 438.6,654.3" stroke="#484848" stroke-width="0.95" fill="none" />
<path d="M364.70,632.10 C366.53,632.88 371.90,634.58 375.70,636.80 C379.50,639.02 383.83,642.27 387.50,645.40 C391.17,648.53 394.82,652.33 397.70,655.60 C400.58,658.87 403.23,662.25 404.80,665.00 C406.37,667.75 406.45,670.52 407.10,672.10 C407.75,673.68 408.43,674.10 408.70,674.50" stroke="#484848" stroke-width="1.0" fill="none" />
<path d="M367.10,633.60 C369.18,635.32 375.55,640.48 379.60,643.90 C383.65,647.32 387.87,650.83 391.40,654.10 C394.93,657.37 398.32,660.50 400.80,663.50 C403.28,666.50 405.38,670.67 406.30,672.10" stroke="#484848" stroke-width="1.0" fill="none" />
<path d="M364.70,632.90 C365.23,633.82 365.42,635.53 367.90,638.40 C370.38,641.27 375.68,646.32 379.60,650.10 C383.52,653.88 387.60,657.82 391.40,661.10 C395.20,664.38 399.65,667.70 402.40,669.80 C405.15,671.90 406.98,673.05 407.90,673.70" stroke="#484848" stroke-width="1.0" fill="none" />
<text x="270.65" y="22.8" font-size="12.1">83.75&quot;</text>
<text x="133.85" y="145" font-size="12.1">40.00&quot;</text>
<text x="529.95" y="136.6" font-size="12.1">25.50&quot;</text>
<text x="487.95" y="153.4" font-size="12.1">20.25&quot;</text>
<text x="333.65" y="86.4" font-size="12.1">26.75&quot;</text>
<text x="353.65" y="162.4" font-size="12.1">21.25&quot;</text>
<text x="395.25" y="188" font-size="12.1">65.25&quot;</text>
<text x="232.65" y="190" font-size="12.1">10.25&quot;</text>
<text x="210.75" y="309.3" font-size="12.1">38.00&quot;</text>
<text x="343.55" y="310.3" font-size="12.1">87.00&quot;</text>
<text x="156.25" y="530.3" font-size="12.1">32.25&quot;</text>
<text x="358.25" y="558" font-size="12.1">63.50&quot;</text>
<text x="453.95" y="667.1" font-size="12.1">17.25&quot;</text>
<text x="338.25" y="678.6" font-size="12.1">15.00&quot;</text>
</svg>
</body></html>
